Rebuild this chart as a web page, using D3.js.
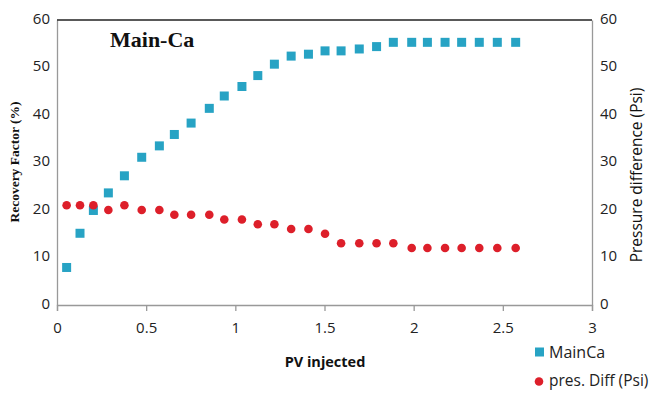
<!DOCTYPE html>
<html><head><meta charset="utf-8">
<script src="https://cdn.jsdelivr.net/npm/d3@7"></script>
<style>body{margin:0;background:#fff}svg{display:block}</style>
</head><body><svg id="c" width="652" height="397"></svg>
<script>
const pvInjected = [0.054,0.129,0.204,0.288,0.378,0.475,0.574,0.658,0.752,0.854,0.938,1.037,1.126,1.219,1.313,1.410,1.503,1.593,1.695,1.792,1.886,1.989,2.077,2.176,2.269,2.368,2.469,2.572];
const recoveryFactor = [7.9,15.1,19.9,23.6,27.2,31.1,33.5,35.9,38.3,41.4,44.0,46.0,48.3,50.7,52.4,52.8,53.5,53.5,53.9,54.4,55.3,55.3,55.3,55.3,55.3,55.3,55.3,55.3];
const presDiff = [21,21,21,20,21,20,20,19,19,19,18,18,17,17,16,16,15,13,13,13,13,12,12,12,12,12,12,12];
const xTicks = [0,0.5,1,1.5,2,2.5,3];
const xTickLabels = ["0","0.5","1","1.5","2","2.5","3"];
const yTicks = [0,10,20,30,40,50,60];
const seriesNames = ["MainCa","pres. Diff (Psi)"];
const titleText = "Main-Ca";

const svg = d3.select("#c");
const L=57, R=592, T=20, B=305;
const x = d3.scaleLinear().domain([0,3]).range([L,R]);
const yL = d3.scaleLinear().domain([0,60]).range([B,T]);
const yR = d3.scaleLinear().domain([0,60]).range([B,T]);
const blue="#27a3c4", red="#dd1f2a";
const sans="'Open Sans', 'Noto Sans', sans-serif";
const serif="'Liberation Serif', 'Times New Roman', serif";

// axes
const gx = svg.append("g").attr("transform",`translate(0,${B})`)
  .call(d3.axisBottom(x).tickValues(xTicks).tickFormat((d,i)=>xTickLabels[i]).tickSize(6).tickPadding(11));
const gl = svg.append("g").attr("transform",`translate(${L},0)`)
  .call(d3.axisLeft(yL).tickValues(yTicks).tickSize(0).tickPadding(7));
const gr = svg.append("g").attr("transform",`translate(${R},0)`)
  .call(d3.axisRight(yR).tickValues(yTicks).tickSize(0).tickPadding(8));
[gx,gl,gr].forEach(g=>{
  g.select(".domain").attr("stroke","#999").attr("stroke-width",1.3);
  g.selectAll(".tick line").attr("stroke","#999").attr("stroke-width",1.3);
  g.selectAll(".tick text").attr("font-family",sans).attr("font-size",15).attr("fill","#222");
});
gl.selectAll(".tick text").attr("dy","0.2em");
gr.selectAll(".tick text").attr("dy","0.2em");
// top border
svg.append("line").attr("x1",L).attr("x2",R).attr("y1",T).attr("y2",T).attr("stroke","#222").attr("stroke-width",1.5);

// series
svg.append("g").selectAll("rect").data(pvInjected).join("rect")
  .attr("x",(d)=>x(d)-4.5).attr("y",(d,i)=>yL(recoveryFactor[i])-4.5)
  .attr("width",9).attr("height",9).attr("fill",blue);
svg.append("g").selectAll("circle").data(pvInjected).join("circle")
  .attr("cx",d=>x(d)).attr("cy",(d,i)=>yR(presDiff[i])).attr("r",4.3).attr("fill",red);

// title
svg.append("text").attr("x",110).attr("y",47).attr("font-family",serif).attr("font-weight","bold")
  .attr("font-size",22).attr("fill","#111").text(titleText);

// axis titles
svg.append("text").attr("x",325).attr("y",367).attr("text-anchor","middle").attr("font-family",sans)
  .attr("font-weight","bold").attr("font-size",14.5).attr("fill","#111").text("PV injected");
svg.append("text").attr("transform","translate(19,162) rotate(-90)").attr("text-anchor","middle")
  .attr("font-family",serif).attr("font-weight","bold").attr("font-size",13.5).attr("fill","#111").text("Recovery Factor (%)");
svg.append("text").attr("transform","translate(641.5,175) rotate(-90)").attr("text-anchor","middle")
  .attr("font-family",sans).attr("font-size",15.5).attr("fill","#111").text("Pressure difference (Psi)");

// legend
const lg = svg.append("g");
lg.append("rect").attr("x",535).attr("y",347.5).attr("width",9).attr("height",9).attr("fill",blue);
lg.append("text").attr("x",549).attr("y",352).attr("dy","0.35em").attr("font-family",sans).attr("font-size",16).attr("fill","#222").text(seriesNames[0]);
lg.append("circle").attr("cx",539).attr("cy",381.5).attr("r",4.3).attr("fill",red);
lg.append("text").attr("x",549).attr("y",381).attr("dy","0.35em").attr("font-family",sans).attr("font-size",15.5).attr("fill","#222").text(seriesNames[1]);
</script></body></html>
